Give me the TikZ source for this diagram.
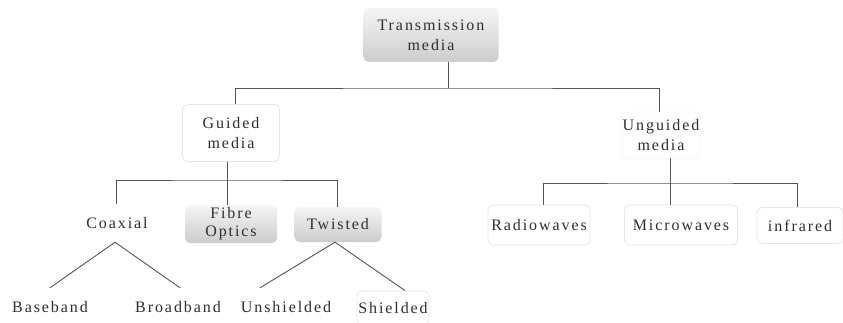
\documentclass[tikz,border=0pt]{standalone}
\usepackage{fontspec}
\setmainfont{Liberation Serif}
\newfontfamily\dfont[LetterSpace=12]{Liberation Serif}
\definecolor{txt}{HTML}{2E2E2E}
\definecolor{lne}{HTML}{555555}
\definecolor{faint}{HTML}{E6E6E6}
\begin{document}
\begin{tikzpicture}[x=1pt,y=-1pt,
  lbl/.style={font=\dfont\fontsize{16}{20}\selectfont, text=txt, align=center, inner sep=0pt},
  shadedbox/.style={lbl, rounded corners=5, top color=gray!8, bottom color=gray!40, draw=none},
  faintbox/.style={lbl, rounded corners=5, draw=faint, line width=0.8},
  plain/.style={lbl},
  conn/.style={draw=lne, line width=0.9}]
\useasboundingbox (0,0) rectangle (843,323);
\fill[white] (0,0) rectangle (843,323);

\node[shadedbox, minimum width=135, minimum height=54] (tm) at (431,35) {Transmission\\media};
\node[faintbox, minimum width=97, minimum height=57] (gm) at (231,133) {Guided\\media};
\node[faintbox, draw=gray!6, minimum width=78, minimum height=46] (ug) at (661,135) {Unguided\\media};

\node[plain, minimum height=38] (cx) at (117,223) {Coaxial};
\node[shadedbox, minimum width=92, minimum height=38, font=\dfont\fontsize{16}{18}\selectfont] (fo) at (231,224) {Fibre\\Optics};
\node[shadedbox, minimum width=87, minimum height=35] (tw) at (338,224.5) {Twisted};

\node[faintbox, minimum width=102, minimum height=40] (rw) at (539,225) {Radiowaves};
\node[faintbox, minimum width=113, minimum height=40] (mw) at (681,225) {Microwaves};
\node[faintbox, minimum width=86, minimum height=36] (ir) at (800,225.5) {infrared};

\node[plain, minimum height=38] (bb) at (50,307) {Baseband};
\node[plain, minimum height=38] (br) at (178,307) {Broadband};
\node[plain, minimum height=38] (us) at (286,307) {Unshielded};
\node[faintbox, minimum width=72, minimum height=34] (sh) at (393,308) {Shielded};

% top level
\coordinate (j0) at (448,88);
\coordinate (gtop) at ([xshift=4]gm.north);
\coordinate (utop) at ([xshift=-2]ug.north);
\draw[conn] (tm.south -| j0) -- (j0);
\draw[conn] (gtop) |- (j0) -| (utop);

% guided
\coordinate (j1) at (227,180);
\coordinate (cxn) at ([xshift=-1]cx.north);
\coordinate (twn) at ([xshift=-1]tw.north);
\draw[conn] (gm.south -| j1) -- (j1);
\draw[conn] (cxn) |- (j1) -| (twn);
\draw[conn] (j1) -- (fo.north -| j1);

% unguided
\coordinate (j2) at (670,183);
\coordinate (rwn) at ([xshift=4]rw.north);
\coordinate (irn) at ([xshift=-3]ir.north);
\draw[conn] (ug.south -| j2) -- (j2);
\draw[conn] (rwn) |- (j2) -| (irn);
\draw[conn] (j2) -- (mw.north -| j2);

% coaxial
\coordinate (cxs) at ([xshift=-2]cx.south);
\draw[conn] (cxs) -- (bb.north);
\draw[conn] (cxs) -- ([xshift=2]br.north);

% twisted
\coordinate (tws) at ([xshift=-3]tw.south);
\draw[conn] (tws) -- ([xshift=-26]us.north);
\draw[conn] (tws) -- ([xshift=12]sh.north);
\end{tikzpicture}
\end{document}
